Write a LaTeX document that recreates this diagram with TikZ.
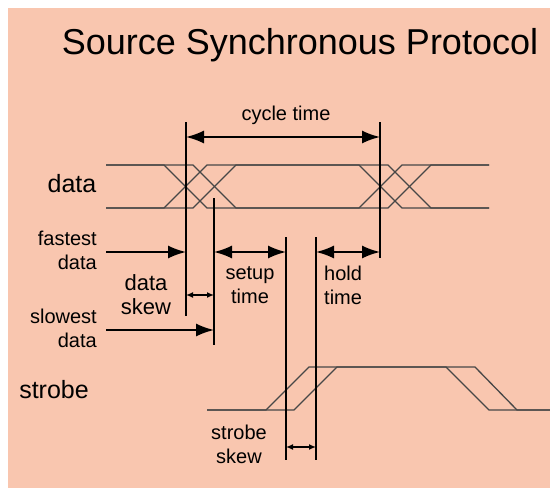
\documentclass[tikz,border=0pt]{standalone}
\usepackage{fontspec}
\setmainfont{Liberation Sans}
\usetikzlibrary{arrows.meta}
\definecolor{peach}{RGB}{249,198,175}

\begin{document}
\begin{tikzpicture}[x=1pt,y=-1pt,
    sig/.style={draw=black!72,line width=1.3pt},
    vline/.style={draw=black,line width=1.8pt},
    bigarr/.style={vline,{Latex[length=18pt,width=13pt]}-{Latex[length=18pt,width=13pt]}},
    toarr/.style={vline,-{Latex[length=18pt,width=13pt]}},
    smallarr/.style={draw=black,line width=1.4pt,{Latex[length=7pt,width=6pt]}-{Latex[length=7pt,width=6pt]}},
    lbl/.style={inner sep=0pt,font=\fontsize{20}{24}\selectfont},
    sig name/.style={inner sep=0pt,font=\fontsize{25}{30}\selectfont}]
            \useasboundingbox (0,0) rectangle (550,488);
            \fill[peach] (8,8) rectangle (550,488);
            \node(title) at (300,45) [inner sep=0pt,font=\fontsize{36}{40}\selectfont] {Source Synchronous Protocol};
            % data wires, fast and slow
            \draw[sig] (106,165) -- (164,165) -- (207,208) -- (359,208) -- (402,165) -- (489,165);
            \draw[sig] (106,208) -- (164,208) -- (207,165) -- (359,165) -- (402,208) -- (489,208);
            \draw[sig] (106,165) -- (193,165) -- (236,208) -- (388,208) -- (431,165) -- (489,165);
            \draw[sig] (106,208) -- (193,208) -- (236,165) -- (388,165) -- (431,208) -- (489,208);
            % strobe, fast and slow
            \draw[sig] (207,410) -- (266,410) -- (309,367) -- (446,367) -- (489,410) -- (550,410);
            \draw[sig] (207,410) -- (294,410) -- (337,367) -- (475,367) -- (517,410) -- (550,410);
            \node(data) at (72,184) [sig name] {data};
            \node(strobe) at (54,390) [sig name] {strobe};
            % markers
            \coordinate(ft) at (186,122); \coordinate(fb) at (186,316);
            \coordinate(st) at (214,198); \coordinate(sb) at (214,345);
            \coordinate(ct) at (380,122); \coordinate(cb) at (380,258);
            \coordinate(at) at (286,237); \coordinate(ab) at (286,460);
            \coordinate(bt) at (316,237); \coordinate(bb) at (316,460);
            \path[vline] (ft) edge (fb) (st) edge (sb) (ct) edge (cb) (at) edge (ab) (bt) edge (bb);
            % arrows
            \coordinate(cyc) at (0,137);
            \coordinate(fast) at (106,252);
            \coordinate(slow) at (106,330);
            \coordinate(dsk) at (0,295);
            \coordinate(ssk) at (0,447);
            \draw[bigarr] (ft |- cyc) -- (ct |- cyc);
            \draw[toarr] (fast) -- (fast -| ft);
            \draw[toarr] (slow) -- (slow -| st);
            \draw[bigarr] (st |- fast) -- (at |- fast);
            \draw[bigarr] (bt |- fast) -- (ct |- fast);
            \draw[smallarr] (ft |- dsk) -- (st |- dsk);
            \draw[smallarr] (ab |- ssk) -- (bb |- ssk);
            % labels
            \node(cyctxt) at (286,115) [lbl] {cycle time};
            \node(fasttxt) at (97,250) [lbl,anchor=east,align=right] {fastest\\data};
            \node(slowtxt) at (97,328) [lbl,anchor=east,align=right] {slowest\\data};
            \node(dsktxt) at (146,295) [lbl,font=\fontsize{22}{24}\selectfont,align=center] {data\\skew};
            \node(setuptxt) at (250,285) [lbl,align=center] {setup\\time};
            \node(holdtxt) at (324,285) [lbl,anchor=west,align=left] {hold\\time};
            \node(ssktxt) at (239,444) [lbl,align=center] {strobe\\skew};
        \end{tikzpicture}
\end{document}
